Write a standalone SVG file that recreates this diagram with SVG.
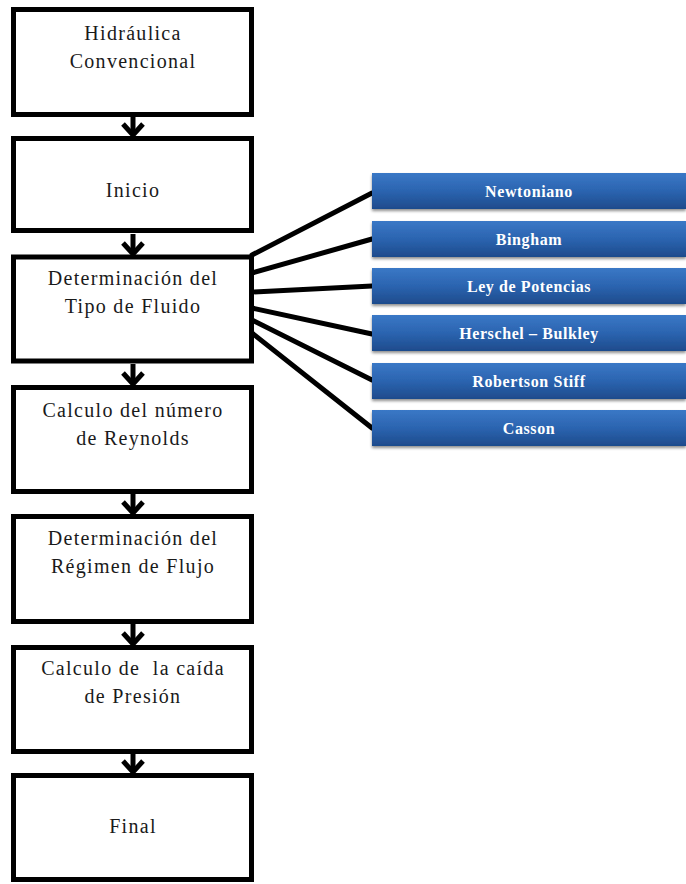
<svg xmlns="http://www.w3.org/2000/svg" width="686" height="884" viewBox="0 0 686 884">
  <defs>
    <linearGradient id="blueFill" x1="0" y1="0" x2="0" y2="1">
      <stop offset="0" stop-color="#3a78c6"/>
      <stop offset="0.5" stop-color="#2b64b0"/>
      <stop offset="1" stop-color="#1e4b8c"/>
    </linearGradient>
    <filter id="shadow" x="-5%" y="-20%" width="110%" height="160%">
      <feGaussianBlur in="SourceAlpha" stdDeviation="1.5"/>
      <feOffset dx="0" dy="2" result="b"/>
      <feComponentTransfer><feFuncA type="linear" slope="0.45"/></feComponentTransfer>
      <feMerge><feMergeNode/><feMergeNode in="SourceGraphic"/></feMerge>
    </filter>
    <!-- down-pointing arrow: shaft plus open chevron, tip at (0,0) -->
    <g id="downArrow">
      <line x1="0" y1="-21" x2="0" y2="-2" stroke="#000" stroke-width="5"/>
      <path d="M-10,-12 L0,-1 L10,-12" fill="none" stroke="#000" stroke-width="5"/>
    </g>
  </defs>
  <style>
    .step { fill: #ffffff; stroke: #000000; stroke-width: 5; }
    .stepText { font-size: 20px; letter-spacing: 1.3px; fill: #1a1a1a; text-anchor: middle; }
    .model { fill: url(#blueFill); filter: url(#shadow); }
    .modelText { font-size: 16px; font-weight: bold; letter-spacing: 0.6px; fill: #ffffff; text-anchor: middle; }
    .branch { stroke: #000; stroke-width: 5; fill: none; stroke-linecap: round; }
  </style>
  <rect width="686" height="884" fill="#ffffff"/>

  <!-- connectors -->
  <g id="connectors">
    <use href="#downArrow" x="133" y="136"/>
    <use href="#downArrow" x="133" y="255"/>
    <use href="#downArrow" x="133" y="385"/>
    <use href="#downArrow" x="133" y="514"/>
    <use href="#downArrow" x="133" y="645"/>
    <use href="#downArrow" x="133" y="773"/>
    <line class="branch" x1="252" y1="255" x2="372" y2="193"/>
    <line class="branch" x1="252" y1="273" x2="372" y2="239"/>
    <line class="branch" x1="252" y1="292" x2="372" y2="286"/>
    <line class="branch" x1="252" y1="308" x2="372" y2="334"/>
    <line class="branch" x1="252" y1="320" x2="372" y2="380"/>
    <line class="branch" x1="252" y1="333" x2="372" y2="428"/>
  </g>

  <!-- process steps -->
  <g font-family="'Liberation Serif', 'Times New Roman', 'DejaVu Serif', serif">
    <g id="hidraulica">
      <rect class="step" x="13.5" y="9.5" width="238" height="105"/>
      <text class="stepText" x="133" y="40">Hidráulica</text>
      <text class="stepText" x="133" y="68">Convencional</text>
    </g>
    <g id="inicio">
      <rect class="step" x="13.5" y="138.5" width="238" height="92"/>
      <text class="stepText" x="133" y="197">Inicio</text>
    </g>
    <g id="tipo-fluido">
      <rect class="step" x="13.5" y="257" width="238" height="104"/>
      <text class="stepText" x="133" y="285">Determinación del</text>
      <text class="stepText" x="133" y="313">Tipo de Fluido</text>
    </g>
    <g id="reynolds">
      <rect class="step" x="13.5" y="387.5" width="238" height="104"/>
      <text class="stepText" x="133" y="417">Calculo del número</text>
      <text class="stepText" x="133" y="445">de Reynolds</text>
    </g>
    <g id="regimen">
      <rect class="step" x="13.5" y="516.5" width="238" height="105"/>
      <text class="stepText" x="133" y="545">Determinación del</text>
      <text class="stepText" x="133" y="573">Régimen de Flujo</text>
    </g>
    <g id="presion">
      <rect class="step" x="13.5" y="647.5" width="238" height="104"/>
      <text class="stepText" x="133" y="675" xml:space="preserve">Calculo de  la caída</text>
      <text class="stepText" x="133" y="703">de Presión</text>
    </g>
    <g id="final">
      <rect class="step" x="13.5" y="775.5" width="238" height="104"/>
      <text class="stepText" x="133" y="833">Final</text>
    </g>
  </g>

  <!-- fluid models -->
  <g font-family="'Liberation Serif', 'Times New Roman', 'DejaVu Serif', serif">
    <g id="newtoniano">
      <rect class="model" x="372" y="173" width="314" height="36"/>
      <text class="modelText" x="529" y="197">Newtoniano</text>
    </g>
    <g id="bingham">
      <rect class="model" x="372" y="221" width="314" height="36"/>
      <text class="modelText" x="529" y="245">Bingham</text>
    </g>
    <g id="ley-potencias">
      <rect class="model" x="372" y="268" width="314" height="36"/>
      <text class="modelText" x="529" y="292">Ley de Potencias</text>
    </g>
    <g id="herschel-bulkley">
      <rect class="model" x="372" y="315" width="314" height="36"/>
      <text class="modelText" x="529" y="339">Herschel – Bulkley</text>
    </g>
    <g id="robertson-stiff">
      <rect class="model" x="372" y="363" width="314" height="36"/>
      <text class="modelText" x="529" y="387">Robertson Stiff</text>
    </g>
    <g id="casson">
      <rect class="model" x="372" y="410" width="314" height="36"/>
      <text class="modelText" x="529" y="434">Casson</text>
    </g>
  </g>
</svg>
